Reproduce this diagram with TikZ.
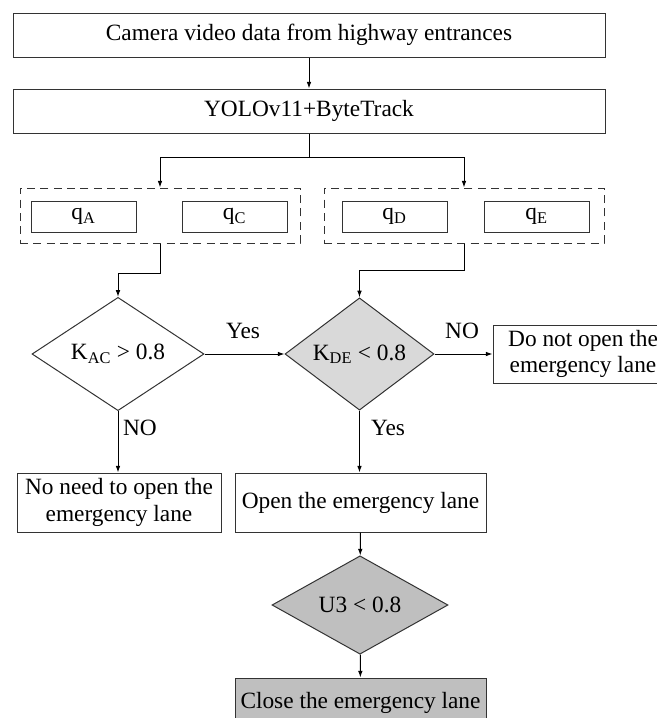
\documentclass[tikz,border=0pt]{standalone}
\usepackage{fontspec}
\setmainfont{Liberation Serif}
\usetikzlibrary{shapes.geometric,arrows.meta}
\definecolor{lightgrey}{RGB}{217,217,217}
\definecolor{midgrey}{RGB}{191,191,191}
\tikzset{every picture/.style={line width=0.75pt}}
\tikzset{
  txt/.style={font=\fontsize{17.5}{20}\selectfont},
  procbox/.style={txt,draw=black!80,rectangle,inner sep=0.75pt,align=center},
  groupbox/.style={draw=black!80,dash pattern={on 6pt off 4pt},rectangle,minimum width=210pt,minimum height=41.25pt},
  qbox/.style={procbox,minimum width=78.75pt,minimum height=23.25pt},
  decision/.style={txt,draw=black!80,diamond,inner sep=0pt},
  flow/.style={-{Latex[length=5pt,width=3.5pt]}},
  lbl/.style={txt,inner sep=0.75pt}
}
\begin{document}
\begin{tikzpicture}[x=0.75pt,y=0.75pt,yscale=-1,xscale=1]
		\useasboundingbox (0,0) rectangle (657,718);
		\clip (0,0) rectangle (657,718);
		
		%Shape: Rectangle
		\node [procbox,minimum width=444pt,minimum height=33pt] (camera) at (309,35) {Camera video data from highway entrances};
		%Shape: Rectangle
		\node [procbox,minimum width=444pt,minimum height=33pt] (yolo) at (309,111) {YOLOv11+ByteTrack};
		
		%Shape: Rectangle (dashed groups)
		\node [groupbox] (grpAC) at (160,215.5) {};
		\node [groupbox] (grpDE) at (464,215.5) {};
		% Text Node
		\node [qbox] (qA) at (83.5,216.5) {q\textsubscript{A}};
		\node [qbox] (qC) at (234.5,216.5) {q\textsubscript{C}};
		\node [qbox] (qD) at (394.5,216.5) {q\textsubscript{D}};
		\node [qbox] (qE) at (536.5,216.5) {q\textsubscript{E}};
		
		%Shape: Diamond
		\node [decision,minimum width=129pt,minimum height=56.25pt] (kac) at (118,354) {K\textsubscript{AC} > 0.8};
		\node [decision,fill=lightgrey,minimum width=111.75pt,minimum height=56.25pt] (kde) at (359.5,354) {K\textsubscript{DE} < 0.8};
		
		%Shape: Rectangle
		\node [procbox,minimum width=135pt,minimum height=43.5pt] (noopen) at (583,354) {Do not open the\\emergency lane};
		\node [procbox,minimum width=153pt,minimum height=44.25pt] (noneed) at (119,502.5) {No need to open the\\emergency lane};
		\node [procbox,minimum width=188.25pt,minimum height=44.25pt] (open) at (360.5,502.5) {Open the emergency lane};
		
		%Shape: Diamond
		\node [decision,fill=midgrey,minimum width=132pt,minimum height=57pt] (utre) at (360,605) {U3 < 0.8};
		%Shape: Rectangle
		\node [procbox,fill=midgrey,minimum width=188.25pt,minimum height=37.5pt] (close) at (360.5,703) {Close the emergency lane};
		
		% Text Node
		\node [lbl] (yesAC) at (243,331) {Yes};
		\node [lbl] (noAC) at (140,428) {NO};
		\node [lbl] (yesDE) at (388,428) {Yes};
		\node [lbl] (noDE) at (462,331) {NO};
		
		%Straight Lines
		\draw [flow] (camera) -- (yolo);
		\draw (yolo.south) -- ++(0,24) coordinate (split);
		\draw [flow] (split) -| (grpAC.north);
		\draw [flow] (split) -| (grpDE.north);
		\draw [flow] (grpAC.south) -- ++(0,30) -| (kac.north);
		\draw [flow] (grpDE.south) -- ++(0,27) -| (kde.north);
		\draw [flow] (kac.east) -- (kde.west);
		\draw [flow] (kde.east) -- (noopen.west);
		\draw [flow] (kac.south) -- (kac.south |- noneed.north);
		\draw [flow] (kde.south) -- (kde.south |- open.north);
		\draw [flow] (open) -- (utre);
		\draw [flow] (utre) -- (close);
	\end{tikzpicture}
\end{document}
